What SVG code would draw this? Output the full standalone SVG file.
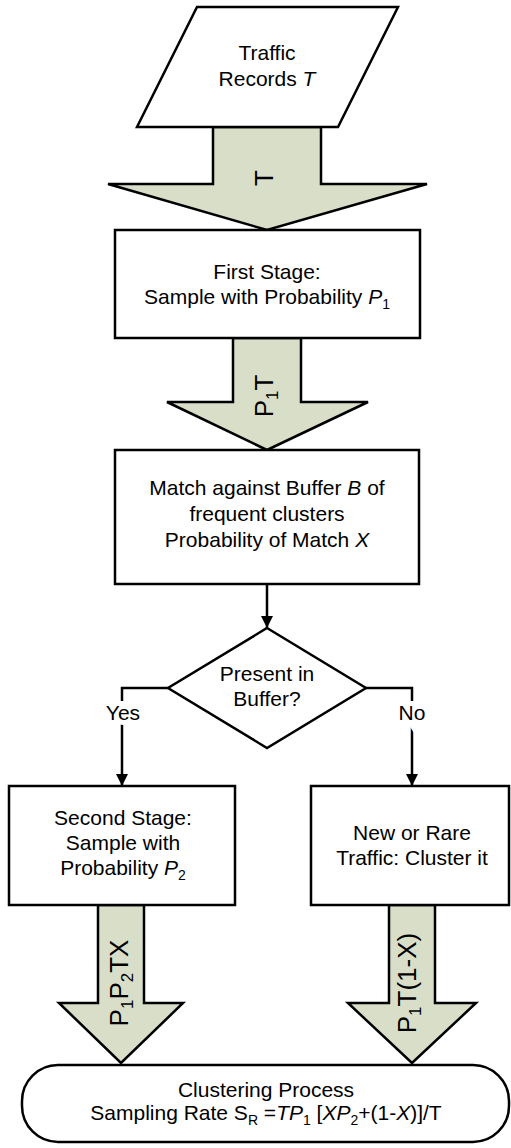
<svg xmlns="http://www.w3.org/2000/svg" width="511" height="1148" viewBox="0 0 511 1148">
<style>
.box{fill:#fff;stroke:#000;stroke-width:2.5}
.fat{fill:#d9dec8;stroke:#000;stroke-width:2.5;stroke-linejoin:miter}
.ln{fill:none;stroke:#000;stroke-width:2.5}
.t{font-family:"Liberation Sans",Arial,sans-serif;font-size:21px;fill:#000;text-anchor:middle}
.r{font-size:26px}
.i{font-style:italic}
.halo{paint-order:stroke;stroke:#fff;stroke-width:10px}
</style>
<defs>
<marker id="ah" viewBox="0 0 12 12" refX="12" refY="6" markerWidth="12" markerHeight="12" markerUnits="userSpaceOnUse" orient="auto">
<path d="M0,0 L12,6 L0,12 z" fill="#000"/>
</marker>
</defs>
<rect width="511" height="1148" fill="#fff"/>
<g id="connectors">
<g id="flow-T">
<polygon class="fat" points="213,127 321,127 321,184 427,184 267,230 108,184 213,184"/>
<text class="t r" transform="translate(273,178) rotate(-90)">T</text>
</g>
<g id="flow-P1T">
<polygon class="fat" points="233,338 301,338 301,402 368,402 267,450 167,402 233,402"/>
<text class="t r" transform="translate(273,396) rotate(-90)">P<tspan font-size="17" dy="5">1</tspan><tspan dy="-5">T</tspan></text>
</g>
<path id="match-to-decision" class="ln" d="M267,584 V628" marker-end="url(#ah)"/>
<path id="yes-edge" class="ln" d="M168,688 H122 V786" marker-end="url(#ah)"/>
<text class="t halo" x="123" y="720">Yes</text>
<path id="no-edge" class="ln" d="M366,688 H412 V786" marker-end="url(#ah)"/>
<text class="t halo" x="412" y="720">No</text>
<g id="flow-P1P2TX">
<polygon class="fat" points="98,905 144,905 144,1003 183,1003 121,1063 59,1003 98,1003"/>
<text class="t r" transform="translate(128,983) rotate(-90)">P<tspan font-size="17" dy="5">1</tspan><tspan dy="-5">P</tspan><tspan font-size="17" dy="5">2</tspan><tspan dy="-5">TX</tspan></text>
</g>
<g id="flow-P1T1X">
<polygon class="fat" points="389,905 435,905 435,1003 476,1003 412,1063 348,1003 389,1003"/>
<text class="t r" transform="translate(416,983) rotate(-90)">P<tspan font-size="17" dy="5">1</tspan><tspan dy="-5">T(1-X)</tspan></text>
</g>
</g>
<g id="traffic-records">
<polygon class="box" points="197,7 398,7 338,127 137,127"/>
<text class="t" x="267" y="60">Traffic</text>
<text class="t" x="267" y="86">Records <tspan class="i">T</tspan></text>
</g>
<g id="first-stage">
<rect class="box" x="115" y="230" width="305" height="108"/>
<text class="t" x="267" y="279">First Stage:</text>
<text class="t" x="267" y="304">Sample with Probability <tspan class="i">P</tspan><tspan font-size="14" dy="5">1</tspan></text>
</g>
<g id="match-buffer">
<rect class="box" x="115" y="450" width="304" height="134"/>
<text class="t" x="267" y="495">Match against Buffer <tspan class="i">B</tspan> of</text>
<text class="t" x="267" y="521">frequent clusters</text>
<text class="t" x="267" y="547">Probability of Match <tspan class="i">X</tspan></text>
</g>
<g id="decision">
<polygon class="box" points="267,628 366,688 267,748 168,688"/>
<text class="t" x="267" y="681">Present in</text>
<text class="t" x="267" y="706">Buffer?</text>
</g>
<g id="second-stage">
<rect class="box" x="9" y="786" width="226" height="119"/>
<text class="t" x="123" y="825">Second Stage:</text>
<text class="t" x="123" y="850">Sample with</text>
<text class="t" x="123" y="875">Probability <tspan class="i">P</tspan><tspan font-size="14" dy="5">2</tspan></text>
</g>
<g id="new-rare">
<rect class="box" x="311" y="786" width="198" height="119"/>
<text class="t" x="412" y="840">New or Rare</text>
<text class="t" x="412" y="865">Traffic: Cluster it</text>
</g>
<g id="clustering">
<rect class="box" x="22" y="1065" width="487" height="77" rx="36" ry="36"/>
<text class="t" x="266" y="1097">Clustering Process</text>
<text class="t" x="266" y="1120">Sampling Rate S<tspan font-size="14" dy="5">R</tspan><tspan dy="-5"> =</tspan><tspan class="i">TP</tspan><tspan font-size="14" dy="5">1</tspan><tspan dy="-5"> [</tspan><tspan class="i">XP</tspan><tspan font-size="14" dy="5">2</tspan><tspan dy="-5">+(1-</tspan><tspan class="i">X</tspan>)]/T</text>
</g>
</svg>
